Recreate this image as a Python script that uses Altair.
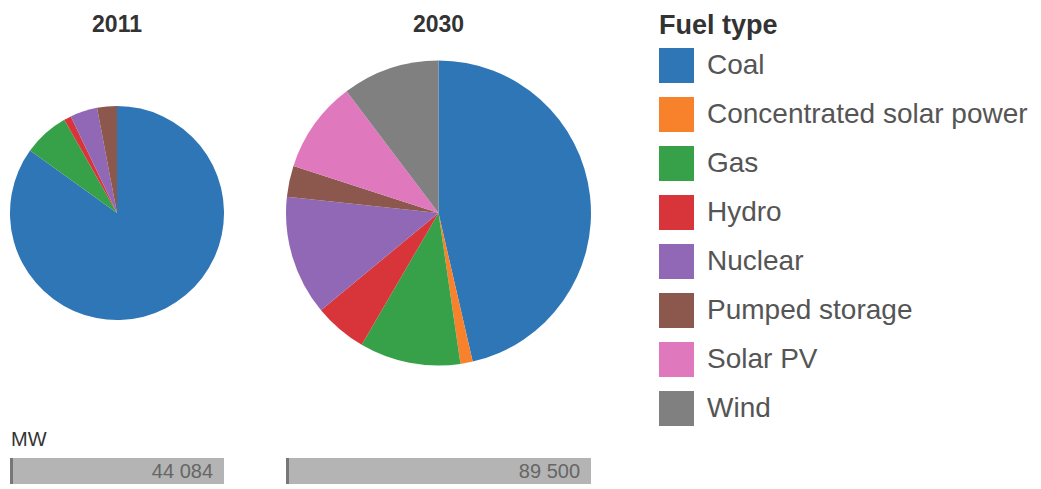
import math
import altair as alt
import pandas as pd

# ---- data ----
fuels = ["Coal", "Concentrated solar power", "Gas", "Hydro", "Nuclear",
         "Pumped storage", "Solar PV", "Wind"]
colors = ["#2e76b6", "#f7822b", "#37a14a", "#d8353a", "#9168b6",
          "#8c574c", "#e078be", "#808080"]
years = ["2011", "2030"]
mw_2011 = [37430, 0, 3040, 485, 1810, 1319, 0, 0]
mw_2030 = [41530, 1160, 9580, 5010, 11370, 2950, 8680, 9220]
unit_label = "MW"

series = {"2011": mw_2011, "2030": mw_2030}
rows = []
for y in years:
    for i, (f, v) in enumerate(zip(fuels, series[y])):
        if v > 0:
            rows.append({"year": y, "fuel": f, "idx": i, "mw": v})
df = pd.DataFrame(rows)

totals = {y: sum(series[y]) for y in years}
max_total = max(totals.values())

# ---- layout constants ----
R_MAX = 152.5
H = 489
CY = 213
FONT = "Liberation Sans"

color_scale = alt.Scale(domain=fuels, range=colors)
radius_scale = alt.Scale(type="sqrt", zero=True, domain=[0, max_total], range=[0, R_MAX])


def column(year, show_unit):
    t = totals[year]
    width = round(2 * R_MAX * math.sqrt(t / max_total))
    d = df[df.year == year]
    tot = pd.DataFrame({"year": [year], "total": [t],
                        "label": [f"{t:,}".replace(",", " ")]})

    pie = alt.Chart(d).transform_joinaggregate(
        total="sum(mw)", groupby=["year"]
    ).mark_arc().encode(
        theta=alt.Theta("mw:Q", stack=True),
        radius=alt.Radius("total:Q", scale=radius_scale),
        color=alt.Color("fuel:N", scale=color_scale, sort=fuels,
                        legend=alt.Legend(
                            title="Fuel type", orient="none",
                            legendX=649, legendY=13,
                            symbolType="square", symbolSize=1225,
                            symbolStrokeWidth=0, symbolOpacity=1,
                            labelFontSize=28, labelFont=FONT, labelColor="#555",
                            labelOffset=13, labelLimit=500,
                            titleFontSize=27, titleFont=FONT, titleColor="#333",
                            titleFontWeight="bold", titlePadding=8,
                            rowPadding=14)),
        order=alt.Order("idx:Q"),
        x=alt.value(width / 2),
        y=alt.value(CY),
    )

    title = alt.Chart(tot).mark_text(
        fontSize=23, fontWeight="bold", color="#333", font=FONT,
        baseline="alphabetic", align="center"
    ).encode(x=alt.value(width / 2), y=alt.value(32), text="year:N")

    bar = alt.Chart(tot).mark_rect(color="#b4b4b4").encode(
        x=alt.X("total:Q", axis=None, scale=alt.Scale(zero=True, nice=False)),
        x2=alt.datum(0),
        y=alt.value(458), y2=alt.value(484),
    )
    tick = alt.Chart(tot).mark_rect(color="#777777").encode(
        x=alt.value(0), x2=alt.value(3), y=alt.value(458), y2=alt.value(484)
    )
    value = alt.Chart(tot).mark_text(
        align="right", baseline="middle", dx=-11, fontSize=20,
        color="#666", font=FONT
    ).encode(x="total:Q", y=alt.value(472), text="label:N")

    layers = [pie, title, bar, tick, value]
    if show_unit:
        unit = alt.Chart(tot).mark_text(
            align="left", baseline="alphabetic", fontSize=20,
            color="#333", font=FONT
        ).encode(x=alt.value(1), y=alt.value(446), text=alt.value(unit_label))
        layers.append(unit)
    return alt.layer(*layers).properties(width=width, height=H)


chart = alt.hconcat(
    column("2011", True), column("2030", False), spacing=61
).resolve_scale(theta="independent", x="independent").properties(
    padding={"left": 9, "top": 0, "right": 0, "bottom": 0}
).configure(font=FONT).configure_view(strokeWidth=0, stroke=None)

chart.save("out.html", embed_options={"renderer": "svg", "actions": False})
